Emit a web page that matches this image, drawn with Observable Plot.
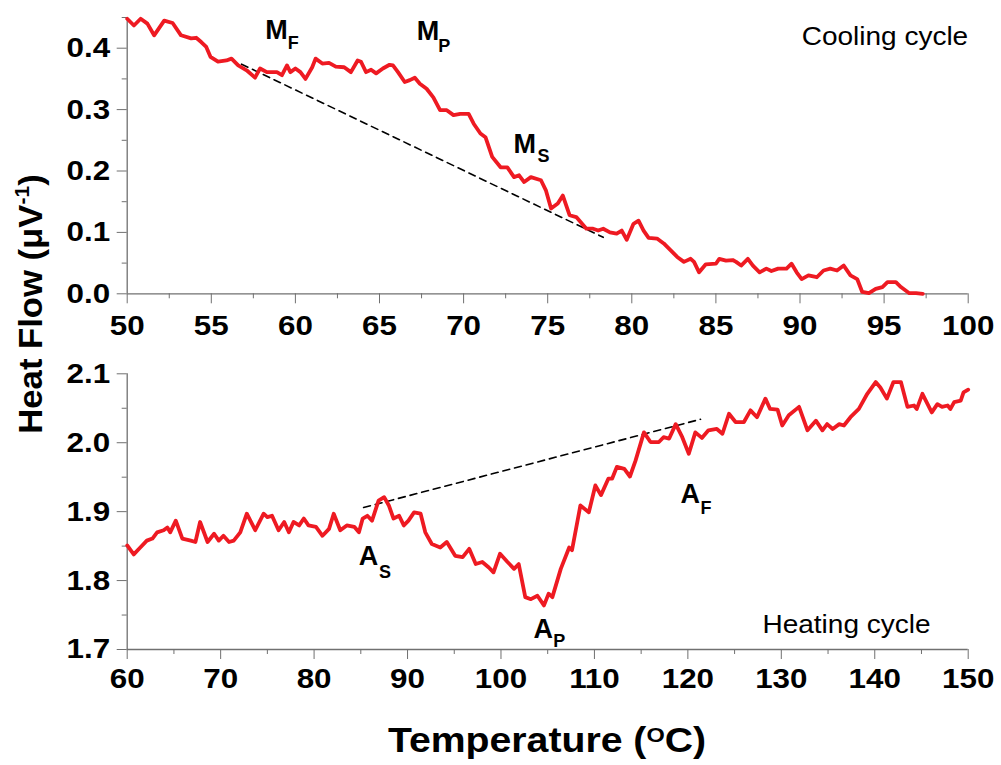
<!DOCTYPE html>
<html><head><meta charset="utf-8">
<script src="https://cdn.jsdelivr.net/npm/d3@7"></script>
<script src="https://cdn.jsdelivr.net/npm/@observablehq/plot@0.6"></script>
<style>
body{margin:0;background:#fff;font-family:"Liberation Sans",Arial,sans-serif;}
#wrap{position:relative;width:1001px;height:765px;overflow:hidden;background:#fff;}
#wrap svg{position:absolute;left:0;overflow:visible;background:transparent;}
.ylab{position:absolute;left:30px;top:304px;transform:translate(-50%,-50%) rotate(-90deg) scaleX(1.05);font-weight:bold;font-size:33px;white-space:nowrap;line-height:1;}
.xlab{position:absolute;left:547px;top:722px;transform:translateX(-50%) scaleX(1.12);font-weight:bold;font-size:35px;white-space:nowrap;line-height:1;}
</style></head>
<body><div id="wrap">
<div class="ylab">Heat Flow (&mu;V<span style="font-size:20px;position:relative;top:-13px">-1</span>)</div>
<div class="xlab">Temperature (<span style="font-size:21px;position:relative;top:-10px">O</span>C)</div>
</div>
<script>
// ---- data: cooling cycle (temperature °C, heat flow) ----
const coolingCurve = [
[50.0,0.448],[50.4,0.437],[50.8,0.448],[51.2,0.440],[51.6,0.421],[52.2,0.445],[52.7,0.441],[53.2,0.421],
[53.8,0.416],[54.1,0.417],[54.4,0.410],[54.7,0.402],[54.95,0.386],[55.4,0.378],[55.9,0.380],[56.2,0.383],
[56.6,0.372],[57.1,0.364],[57.6,0.352],[57.9,0.367],[58.3,0.361],[58.9,0.361],[59.2,0.356],[59.5,0.372],
[59.7,0.361],[60.0,0.367],[60.3,0.361],[60.6,0.350],[61.0,0.369],[61.2,0.383],[61.6,0.375],[62.0,0.376],
[62.4,0.370],[62.9,0.369],[63.3,0.361],[63.7,0.380],[63.9,0.378],[64.2,0.361],[64.5,0.365],[64.8,0.359],
[65.2,0.367],[65.6,0.373],[65.8,0.372],[66.1,0.361],[66.5,0.345],[66.8,0.348],[67.1,0.352],[67.4,0.342],
[67.8,0.334],[68.2,0.320],[68.6,0.299],[69.0,0.299],[69.4,0.291],[69.8,0.293],[70.3,0.293],[70.6,0.277],
[71.0,0.261],[71.3,0.255],[71.7,0.223],[72.2,0.206],[72.6,0.206],[73.0,0.190],[73.3,0.193],[73.6,0.182],
[74.0,0.190],[74.6,0.185],[74.9,0.168],[75.2,0.139],[75.6,0.147],[75.9,0.160],[76.3,0.128],[76.7,0.125],
[77.3,0.106],[77.7,0.106],[78.0,0.103],[78.3,0.106],[78.7,0.100],[79.1,0.098],[79.4,0.103],[79.7,0.088],
[80.1,0.114],[80.4,0.119],[80.7,0.103],[81.0,0.091],[81.5,0.090],[81.9,0.082],[82.3,0.071],[82.7,0.060],
[83.1,0.052],[83.5,0.057],[83.7,0.052],[84.0,0.035],[84.4,0.048],[85.0,0.049],[85.2,0.057],[85.6,0.054],
[86.0,0.055],[86.2,0.052],[86.5,0.046],[86.9,0.057],[87.2,0.046],[87.6,0.035],[88.0,0.041],[88.3,0.037],
[88.7,0.041],[89.2,0.041],[89.5,0.049],[89.8,0.035],[90.1,0.024],[90.5,0.030],[91.0,0.027],[91.4,0.038],
[91.8,0.041],[92.2,0.038],[92.6,0.046],[93.0,0.030],[93.4,0.024],[93.7,0.003],[94.1,0.001],[94.5,0.008],
[94.9,0.011],[95.2,0.019],[95.7,0.019],[96.0,0.011],[96.5,0.001],[96.9,0.001],[97.3,0.000]
];
// ---- data: heating cycle ----
const heatingCurve = [
[60.0,1.851],[60.7,1.838],[61.4,1.848],[62.1,1.858],[62.7,1.861],[63.2,1.870],[63.9,1.873],[64.3,1.877],
[64.6,1.870],[65.2,1.887],[65.9,1.861],[66.8,1.858],[67.3,1.856],[67.8,1.885],[68.6,1.856],[69.3,1.868],
[69.8,1.858],[70.3,1.865],[70.9,1.856],[71.4,1.858],[72.1,1.870],[72.8,1.897],[73.7,1.873],[74.6,1.897],
[75.0,1.892],[75.5,1.894],[76.2,1.873],[76.8,1.885],[77.3,1.870],[77.8,1.885],[78.4,1.880],[78.9,1.890],
[79.4,1.880],[80.2,1.878],[80.9,1.865],[81.6,1.875],[82.1,1.897],[82.8,1.873],[83.5,1.880],[84.3,1.878],
[84.8,1.870],[85.2,1.890],[85.7,1.894],[86.2,1.887],[86.9,1.916],[87.5,1.921],[88.0,1.909],[88.5,1.890],
[89.1,1.894],[89.6,1.880],[90.1,1.887],[90.7,1.899],[91.4,1.897],[91.9,1.870],[92.6,1.853],[93.5,1.848],
[94.2,1.856],[95.1,1.836],[95.9,1.834],[96.6,1.846],[97.3,1.824],[98.0,1.827],[98.7,1.819],[99.2,1.812],
[99.9,1.839],[100.7,1.827],[101.4,1.817],[101.9,1.824],[102.6,1.776],[103.2,1.773],[103.9,1.778],[104.6,1.764],
[105.1,1.781],[105.5,1.776],[106.4,1.817],[107.3,1.848],[107.6,1.844],[108.5,1.909],[109.4,1.899],[110.1,1.938],
[110.7,1.924],[111.5,1.948],[111.9,1.948],[112.4,1.965],[113.2,1.962],[113.8,1.951],[114.4,1.974],[115.3,2.015],
[116.0,2.001],[116.9,2.001],[117.4,2.008],[118.0,2.006],[118.7,2.027],[119.4,2.008],[120.1,1.984],[120.8,2.015],
[121.5,2.007],[122.2,2.018],[123.1,2.020],[123.7,2.013],[124.4,2.042],[125.1,2.030],[126.0,2.030],[126.7,2.047],
[127.4,2.037],[128.3,2.064],[128.8,2.049],[129.6,2.048],[130.1,2.025],[130.8,2.040],[131.9,2.052],[132.8,2.018],
[133.7,2.032],[134.4,2.018],[134.9,2.027],[135.5,2.020],[136.2,2.027],[136.7,2.025],[137.4,2.037],[138.3,2.049],
[139.2,2.071],[140.1,2.088],[140.6,2.080],[141.3,2.064],[142.0,2.088],[142.8,2.088],[143.5,2.052],[144.2,2.054],
[144.5,2.049],[145.1,2.071],[146.1,2.044],[146.7,2.056],[147.2,2.052],[147.8,2.054],[148.1,2.049],[148.5,2.059],
[149.2,2.061],[149.5,2.073],[150.0,2.077]
];
// baselines (dashed)
const coolingBaseline = [[56.8,0.374],[78.3,0.092]];
const heatingBaseline = [[85.3,1.906],[121.35,2.034]];
// transformation-point labels: [letter, x, y, subscript, subX, subY]
const coolingLabels = [["M",58.21,0.4145,"F",59.55,0.398],["M",67.21,0.413,"P",68.49,0.394],["M",72.96,0.230,"S",74.4,0.214]];
const heatingLabels = [["A",84.79,1.822,"S",86.95,1.804],["A",103.48,1.717,"P",105.6,1.703],["A",119.21,1.912,"F",121.35,1.897]];
const coolingNote = [["Cooling cycle",100,0.406]];
const heatingNote = [["Heating cycle",145.97,1.7245]];
// ticks
const coolXMajor = [50,55,60,65,70,75,80,85,90,95,100];
const coolXMinor = [52.5,57.5,62.5,67.5,72.5,77.5,82.5,87.5,92.5,97.5];
const coolYMajor = [0.0,0.1,0.2,0.3,0.4];
const coolYMinor = [0.05,0.15,0.25,0.35,0.45];
const heatXMajor = [60,70,80,90,100,110,120,130,140,150];
const heatXMinor = [65,75,85,95,105,115,125,135,145];
const heatYMajor = [1.7,1.8,1.9,2.0,2.1];
const heatYMinor = [1.75,1.85,1.95,2.05];

const RED = "#ee1a22", AX = "#707070", FONT = '"Liberation Sans", Arial, Helvetica, sans-serif';

function panel(o) {
  const svg = Plot.plot({
    width: 1001, height: o.height,
    marginLeft: 126.7, marginRight: 33.3, marginTop: o.mt, marginBottom: o.mb,
    x: {domain: o.xDomain}, y: {domain: o.yDomain},
    style: {fontFamily: FONT, background: "transparent", overflow: "visible"},
    marks: [
      Plot.ruleY([o.yDomain[0]], {stroke: AX, strokeWidth: 1.3}),
      Plot.ruleX([o.xDomain[0]], {stroke: AX, strokeWidth: 1.3}),
      Plot.axisX({ticks: o.xMajor, tickSize: 10, tickPadding: o.padX, stroke: AX, fill: "black",
        fontSize: 28, fontWeight: "bold", tickFormat: d => String(d), label: null, className: "stretch"}),
      Plot.axisX({ticks: o.xMinor, tickSize: 5, text: null, stroke: AX, label: null}),
      Plot.axisY({ticks: o.yMajor, tickSize: 10, tickPadding: 7, stroke: AX, fill: "black",
        fontSize: 28, fontWeight: "bold", tickFormat: d3.format(".1f"), label: null, className: "stretch"}),
      Plot.axisY({ticks: o.yMinor, tickSize: 5, text: null, stroke: AX, label: null}),
      Plot.line(o.dash, {x: d => d[0], y: d => d[1], stroke: "black", strokeWidth: 1.6, strokeDasharray: "7,5"}),
      Plot.line(o.curve, {x: d => d[0], y: d => d[1], stroke: RED, strokeWidth: 3.8, strokeLinejoin: "round"}),
      Plot.text(o.labels, {x: d => d[1], y: d => d[2], text: d => d[0], textAnchor: "start", lineAnchor: "bottom",
        fontSize: 27, fontWeight: "bold", fill: "black"}),
      Plot.text(o.labels, {x: d => d[4], y: d => d[5], text: d => d[3], textAnchor: "start", lineAnchor: "bottom",
        fontSize: 18, fontWeight: "bold", fill: "black"}),
      Plot.text(o.note, {x: d => d[1], y: d => d[2], text: d => d[0], textAnchor: "end", lineAnchor: "bottom",
        fontSize: 25, fill: "black", className: "stretch"})
    ]
  });
  svg.style.top = o.top + "px";
  return svg;
}

const wrap = document.getElementById("wrap");
const s1 = panel({curve: coolingCurve, dash: coolingBaseline, labels: coolingLabels, note: coolingNote,
  xDomain: [50, 100], yDomain: [0, 0.45], xMajor: coolXMajor, xMinor: coolXMinor, yMajor: coolYMajor, yMinor: coolYMinor,
  top: 0, height: 345, mt: 17, mb: 51.7, padX: 11});
const s2 = panel({curve: heatingCurve, dash: heatingBaseline, labels: heatingLabels, note: heatingNote,
  xDomain: [60, 150], yDomain: [1.7, 2.1], xMajor: heatXMajor, xMinor: heatXMinor, yMajor: heatYMajor, yMinor: heatYMinor,
  top: 345, height: 345, mt: 28.3, mb: 41, padX: 9});
wrap.appendChild(s1);
wrap.appendChild(s2);
// the reference's tick and note lettering is horizontally wide: stretch glyphs a little
for (const svg of [s1, s2]) {
  svg.querySelectorAll(".stretch text").forEach(t => {
    const len = t.getComputedTextLength();
    if (len > 0) { t.setAttribute("textLength", (len * 1.12).toFixed(1)); t.setAttribute("lengthAdjust", "spacingAndGlyphs"); }
  });
}
</script>
</body></html>
